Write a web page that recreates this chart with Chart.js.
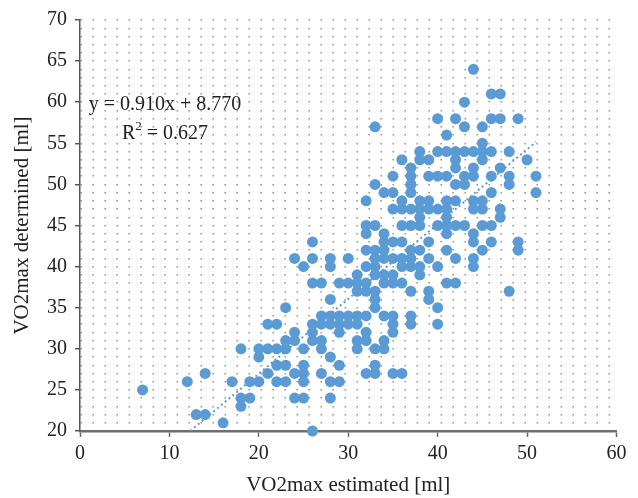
<!DOCTYPE html>
<html>
<head>
<meta charset="utf-8">
<script src="https://cdn.jsdelivr.net/npm/chart.js@4.4.0/dist/chart.umd.min.js"></script>
<style>
html,body{margin:0;padding:0;background:#fff;}
#wrap{width:638px;height:498px;}
</style>
</head>
<body>
<div id="wrap"><canvas id="c" width="638" height="498"></canvas></div>
<script>
// VO2max estimated (x) and determined (y), grouped by determined value rows
const estimated = [
  44,
  46, 47,
  43,
  40, 42, 46, 47, 49,
  33, 43, 45,
  41,
  45,
  38, 40, 41, 42, 43, 44, 45, 46, 48,
  36, 38, 39, 42, 45, 50,
  37, 42, 44, 47,
  35, 37, 39, 40, 41, 43, 44, 46, 48, 51,
  33, 37, 42, 43, 48,
  34, 35, 37, 46, 51,
  32, 36, 38, 39, 41, 42, 44, 45,
  35, 36, 37, 38, 39, 40, 41, 44, 45, 47,
  38, 41, 47,
  32, 33, 36, 37, 38, 40, 41, 42, 43, 45, 46,
  32, 34, 41, 44,
  26, 34, 35, 36, 39, 44, 46, 49,
  32, 33, 34, 37, 38, 41, 45, 49,
  24, 26, 28, 30, 33, 34, 35, 36, 37, 39, 42, 44,
  25, 28, 32, 33, 36, 37, 38, 40, 44,
  31, 33, 34, 35, 38,
  26, 27, 29, 30, 31, 32, 34, 35, 36, 41, 42,
  31, 32, 33, 37, 39, 48,
  28, 33, 39,
  23, 33, 40,
  27, 28, 29, 30, 31, 32, 34, 35, 37,
  21, 22, 26, 27, 28, 29, 30, 31, 35, 37, 40,
  24, 26, 29, 32, 35,
  23, 24, 26, 27, 31, 32, 34,
  18, 20, 21, 22, 23, 25, 27, 31, 33, 34,
  20, 28,
  22, 23, 25, 29, 33,
  14, 21, 24, 25, 27, 32, 33, 35, 36,
  12, 17, 19, 20, 22, 23, 25, 28, 29,
  7,
  18, 19, 24, 25, 28,
  18,
  13, 14,
  16,
  26
];
const determined = [
  64,
  61, 61,
  60,
  58, 58, 58, 58, 58,
  57, 57, 57,
  56,
  55,
  54, 54, 54, 54, 54, 54, 54, 54, 54,
  53, 53, 53, 53, 53, 53,
  52, 52, 52, 52,
  51, 51, 51, 51, 51, 51, 51, 51, 51, 51,
  50, 50, 50, 50, 50,
  49, 49, 49, 49, 49,
  48, 48, 48, 48, 48, 48, 48, 48,
  47, 47, 47, 47, 47, 47, 47, 47, 47, 47,
  46, 46, 46,
  45, 45, 45, 45, 45, 45, 45, 45, 45, 45, 45,
  44, 44, 44, 44,
  43, 43, 43, 43, 43, 43, 43, 43,
  42, 42, 42, 42, 42, 42, 42, 42,
  41, 41, 41, 41, 41, 41, 41, 41, 41, 41, 41, 41,
  40, 40, 40, 40, 40, 40, 40, 40, 40,
  39, 39, 39, 39, 39,
  38, 38, 38, 38, 38, 38, 38, 38, 38, 38, 38,
  37, 37, 37, 37, 37, 37,
  36, 36, 36,
  35, 35, 35,
  34, 34, 34, 34, 34, 34, 34, 34, 34,
  33, 33, 33, 33, 33, 33, 33, 33, 33, 33, 33,
  32, 32, 32, 32, 32,
  31, 31, 31, 31, 31, 31, 31,
  30, 30, 30, 30, 30, 30, 30, 30, 30, 30,
  29, 29,
  28, 28, 28, 28, 28,
  27, 27, 27, 27, 27, 27, 27, 27, 27,
  26, 26, 26, 26, 26, 26, 26, 26, 26,
  25,
  24, 24, 24, 24, 24,
  23,
  22, 22,
  21,
  20
];
const xTicks = [0, 10, 20, 30, 40, 50, 60];
const yTicks = [20, 25, 30, 35, 40, 45, 50, 55, 60, 65, 70];
const slope = 0.910;
const intercept = 8.770;
const rSquared = 0.627;

const FONT = "'Liberation Serif', 'Times New Roman', serif";
const TEXT = '#222222';
const BLUE = '#5B9BD5';

const yMin = yTicks[0], yMax = yTicks[yTicks.length - 1];
const xMin = xTicks[0], xMax = xTicks[xTicks.length - 1];
const trendStart = (yMin - intercept) / slope;
const trendEnd = Math.max(...estimated);
const trendXs = [trendStart, trendEnd];

const annot = {
  id: 'annot',
  afterDatasetsDraw(chart) {
    const {ctx, chartArea} = chart;
    const cx = chartArea.left + 85;
    ctx.save();
    ctx.fillStyle = TEXT;
    ctx.textBaseline = 'middle';
    ctx.font = '20px ' + FONT;
    const eq = 'y = ' + slope.toFixed(3) + 'x + ' + intercept.toFixed(3);
    ctx.textAlign = 'center';
    ctx.fillText(eq, cx, chartArea.top + 85);
    // R² line
    const y2 = chartArea.top + 114;
    const rest = ' = ' + rSquared.toFixed(3);
    const wR = ctx.measureText('R').width;
    const wRest = ctx.measureText(rest).width;
    ctx.font = '13px ' + FONT;
    const wSup = ctx.measureText('2').width;
    const total = wR + wSup + wRest;
    let x0 = cx - total / 2;
    ctx.textAlign = 'left';
    ctx.font = '20px ' + FONT;
    ctx.fillText('R', x0, y2);
    ctx.font = '13px ' + FONT;
    ctx.fillText('2', x0 + wR, y2 - 7);
    ctx.font = '20px ' + FONT;
    ctx.fillText(rest, x0 + wR + wSup, y2);
    ctx.restore();
  }
};

new Chart(document.getElementById('c'), {
  type: 'scatter',
  data: {
    datasets: [
      {
        label: 'trend',
        data: trendXs.map(x => ({x: x, y: slope * x + intercept})),
        showLine: true,
        borderColor: BLUE,
        borderWidth: 2,
        borderDash: [2, 3],
        pointRadius: 0,
        fill: false
      },
      {
        label: 'VO2max',
        data: estimated.map((x, i) => ({x: x, y: determined[i]})),
        backgroundColor: BLUE,
        borderWidth: 0,
        pointRadius: 5.5,
        pointHoverRadius: 5.5,
        clip: false
      }
    ]
  },
  options: {
    responsive: false,
    animation: false,
    events: [],
    layout: {padding: {top: 17, right: 21.5, left: 0, bottom: 0}},
    plugins: {legend: {display: false}, tooltip: {enabled: false}},
    scales: {
      x: {
        type: 'linear',
        min: xMin, max: xMax,
        afterFit: s => { s.height = 67; },
        afterBuildTicks: s => { s.ticks = xTicks.map(v => ({value: v})); },
        ticks: {
          font: {family: FONT, size: 20},
          color: TEXT,
          padding: 5,
          maxRotation: 0,
          autoSkip: false
        },
        grid: {drawOnChartArea: false, drawTicks: true, tickLength: 6, tickColor: '#6b6b6b', tickWidth: 1.5},
        border: {display: true, color: '#6e6e6e', width: 2.5},
        title: {display: true, text: 'VO2max estimated [ml]', font: {family: FONT, size: 21}, color: TEXT, padding: {top: 0, bottom: 0}}
      },
      y: {
        type: 'linear',
        min: yMin, max: yMax,
        afterFit: s => { s.width = 80; },
        ticks: {
          stepSize: 1,
          autoSkip: false,
          callback: v => yTicks.includes(v) ? String(v) : '',
          font: {family: FONT, size: 20},
          color: TEXT,
          padding: 8
        },
        grid: {
          color: ctx => (ctx.tick && ctx.tick.value === yMin) ? 'rgba(0,0,0,0)' : '#8a8a8a',
          lineWidth: 1.4,
          drawTicks: true,
          tickLength: 5,
          tickWidth: 1.5,
          tickColor: ctx => (ctx.tick && yTicks.includes(ctx.tick.value)) ? '#555555' : 'rgba(0,0,0,0)'
        },
        border: {display: true, color: '#555555', width: 1.5, dash: [1.4, 10.6]},
        title: {display: true, text: 'VO2max determined [ml]', font: {family: FONT, size: 21}, color: TEXT, padding: {top: 10, bottom: 0}}
      }
    }
  },
  plugins: [annot]
});
</script>
</body>
</html>
